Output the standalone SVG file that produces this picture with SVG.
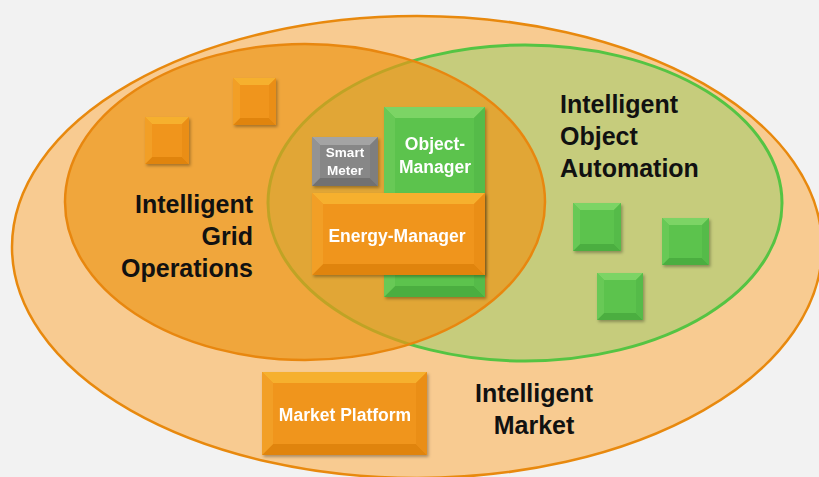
<svg xmlns="http://www.w3.org/2000/svg" width="819" height="477" viewBox="0 0 819 477">
  <defs>
    <filter id="sh" x="-20%" y="-20%" width="140%" height="140%">
      <feDropShadow dx="1.5" dy="2" stdDeviation="1.5" flood-color="#000" flood-opacity="0.3"/>
    </filter>
  </defs>
  <style>
    text { font-family: "Liberation Sans", Arial, sans-serif; font-weight: bold; }
    .lbl { fill: #111; font-size: 25px; }
    .wt { fill: #fff; text-anchor: middle; }
    .of { fill: #F0951F; } .ot { fill: #F6B02F; } .ol { fill: #F29F28; } .or { fill: #EA8E18; } .ob { fill: #E0840F; }
    .gf { fill: #5CC34D; } .gt { fill: #7CD465; } .gl { fill: #67C957; } .gr { fill: #55BB48; } .gb { fill: #4CAE40; }
    .sf { fill: #878787; } .st { fill: #A4A4A4; } .sl { fill: #939393; } .sr { fill: #7E7E7E; } .sb { fill: #717171; }
  </style>
  <rect width="819" height="477" fill="#F2F2F2"/>

  <g id="market-area">
    <ellipse cx="417" cy="247" rx="405" ry="231" fill="#F8CB91" stroke="#E8890E" stroke-width="2.5"/>
  </g>
  <g id="object-automation-area">
    <ellipse cx="525" cy="203" rx="257" ry="158" fill="#C6CC7C" stroke="#55C443" stroke-width="3"/>
  </g>
  <g id="grid-operations-area">
    <ellipse cx="305" cy="202" rx="240" ry="158" fill="#EC9518" fill-opacity="0.7" stroke="#E8870F" stroke-width="2.5"/>
  </g>

  <g id="connectors"></g>

  <g id="grid-box-1" filter="url(#sh)">
    <rect class="of" x="145" y="117" width="44" height="47"/>
    <polygon class="ot" points="145,117 189,117 182,124 152,124"/>
    <polygon class="ob" points="145,164 189,164 182,157 152,157"/>
    <polygon class="ol" points="145,117 152,124 152,157 145,164"/>
    <polygon class="or" points="189,117 182,124 182,157 189,164"/>
  </g>
  <g id="grid-box-2" filter="url(#sh)">
    <rect class="of" x="233" y="78" width="43" height="47"/>
    <polygon class="ot" points="233,78 276,78 269,85 240,85"/>
    <polygon class="ob" points="233,125 276,125 269,118 240,118"/>
    <polygon class="ol" points="233,78 240,85 240,118 233,125"/>
    <polygon class="or" points="276,78 269,85 269,118 276,125"/>
  </g>

  <g id="object-box-1" filter="url(#sh)">
    <rect class="gf" x="573" y="203" width="48" height="48"/>
    <polygon class="gt" points="573,203 621,203 614,210 580,210"/>
    <polygon class="gb" points="573,251 621,251 614,244 580,244"/>
    <polygon class="gl" points="573,203 580,210 580,244 573,251"/>
    <polygon class="gr" points="621,203 614,210 614,244 621,251"/>
  </g>
  <g id="object-box-2" filter="url(#sh)">
    <rect class="gf" x="662" y="218" width="47" height="47"/>
    <polygon class="gt" points="662,218 709,218 702,225 669,225"/>
    <polygon class="gb" points="662,265 709,265 702,258 669,258"/>
    <polygon class="gl" points="662,218 669,225 669,258 662,265"/>
    <polygon class="gr" points="709,218 702,225 702,258 709,265"/>
  </g>
  <g id="object-box-3" filter="url(#sh)">
    <rect class="gf" x="597" y="273" width="46" height="47"/>
    <polygon class="gt" points="597,273 643,273 636,280 604,280"/>
    <polygon class="gb" points="597,320 643,320 636,313 604,313"/>
    <polygon class="gl" points="597,273 604,280 604,313 597,320"/>
    <polygon class="gr" points="643,273 636,280 636,313 643,320"/>
  </g>

  <g id="object-manager" filter="url(#sh)">
    <rect class="gf" x="384" y="107" width="101" height="190"/>
    <polygon class="gt" points="384,107 485,107 474,118 395,118"/>
    <polygon class="gb" points="384,297 485,297 474,286 395,286"/>
    <polygon class="gl" points="384,107 395,118 395,286 384,297"/>
    <polygon class="gr" points="485,107 474,118 474,286 485,297"/>
    <text class="wt" x="435" y="150" font-size="17.5">Object-</text>
    <text class="wt" x="435" y="173" font-size="17.5">Manager</text>
  </g>

  <g id="smart-meter" filter="url(#sh)">
    <rect class="sf" x="312" y="137" width="66" height="49"/>
    <polygon class="st" points="312,137 378,137 370,145 320,145"/>
    <polygon class="sb" points="312,186 378,186 370,178 320,178"/>
    <polygon class="sl" points="312,137 320,145 320,178 312,186"/>
    <polygon class="sr" points="378,137 370,145 370,178 378,186"/>
    <text class="wt" x="345" y="157" font-size="13.5">Smart</text>
    <text class="wt" x="345" y="175" font-size="13.5">Meter</text>
  </g>

  <g id="energy-manager" filter="url(#sh)">
    <rect class="of" x="312" y="193" width="173" height="82"/>
    <polygon class="ot" points="312,193 485,193 474,204 323,204"/>
    <polygon class="ob" points="312,275 485,275 474,264 323,264"/>
    <polygon class="ol" points="312,193 323,204 323,264 312,275"/>
    <polygon class="or" points="485,193 474,204 474,264 485,275"/>
    <text class="wt" x="397" y="242" font-size="17.5">Energy-Manager</text>
  </g>

  <g id="market-platform" filter="url(#sh)">
    <rect class="of" x="262" y="372" width="165" height="83"/>
    <polygon class="ot" points="262,372 427,372 416,383 273,383"/>
    <polygon class="ob" points="262,455 427,455 416,444 273,444"/>
    <polygon class="ol" points="262,372 273,383 273,444 262,455"/>
    <polygon class="or" points="427,372 416,383 416,444 427,455"/>
    <text class="wt" x="345" y="421" font-size="17.5">Market Platform</text>
  </g>

  <g id="label-grid">
    <text class="lbl" x="253" y="213" text-anchor="end">Intelligent</text>
    <text class="lbl" x="253" y="245" text-anchor="end">Grid</text>
    <text class="lbl" x="253" y="277" text-anchor="end">Operations</text>
  </g>
  <g id="label-object">
    <text class="lbl" x="560" y="113">Intelligent</text>
    <text class="lbl" x="560" y="145">Object</text>
    <text class="lbl" x="560" y="177">Automation</text>
  </g>
  <g id="label-market">
    <text class="lbl" x="534" y="402" text-anchor="middle">Intelligent</text>
    <text class="lbl" x="534" y="434" text-anchor="middle">Market</text>
  </g>
</svg>
